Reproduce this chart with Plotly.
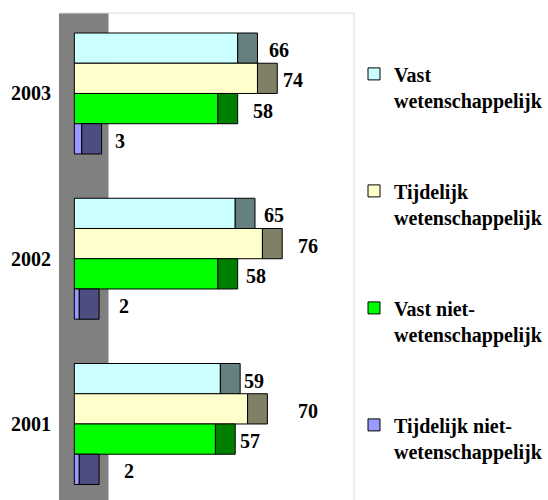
import plotly.graph_objects as go

# ---- data ----
YEARS = ["2003", "2002", "2001"]
SERIES = [
    "Vast<br>wetenschappelijk",
    "Tijdelijk<br>wetenschappelijk",
    "Vast niet-<br>wetenschappelijk",
    "Tijdelijk niet-<br>wetenschappelijk",
]
VAST_WET = [66, 65, 59]
TIJD_WET = [74, 76, 70]
VAST_NIET = [58, 58, 57]
TIJD_NIET = [3, 2, 2]
VALUES = [VAST_WET, TIJD_WET, VAST_NIET, TIJD_NIET]

# ---- style ----
FRONT = ["#CCFFFF", "#FFFFCC", "#00FF00", "#9999FF"]
SIDE = ["#668080", "#808066", "#008000", "#4D4D80"]
DEPTH = 8            # visual depth of the pseudo-3D bar end (x units)
BAR_W = 0.183        # width of one bar in category units
LABEL_SHIFT = [[10, 7, 2], [4, 14, 29], [13, 6, 3], [11, 18, 23]]  # px
FONT = "Liberation Serif, Times New Roman, serif"

fig = go.Figure()
for k, (name, vals) in enumerate(zip(SERIES, VALUES)):
    off = -2 * BAR_W + k * BAR_W
    fig.add_trace(go.Bar(
        y=YEARS, x=vals, orientation="h", name=name,
        legendgroup=f"g{k}", offset=off, width=BAR_W,
        marker=dict(color=FRONT[k], line=dict(color="black", width=1)),
    ))
    fig.add_trace(go.Bar(
        y=YEARS, x=[DEPTH] * len(vals), base=vals, orientation="h",
        name=name, legendgroup=f"g{k}", showlegend=False,
        offset=off, width=BAR_W, hoverinfo="skip",
        marker=dict(color=SIDE[k], line=dict(color="black", width=1)),
    ))
    for i, v in enumerate(vals):
        fig.add_annotation(
            x=v + DEPTH, y=i + off + BAR_W / 2, text=str(v),
            xref="x", yref="y", xanchor="left", yanchor="middle",
            xshift=LABEL_SHIFT[k][i], yshift=-2, showarrow=False,
            font=dict(family=FONT, size=20, color="black", weight="bold"),
        )

fig.add_shape(type="rect", xref="paper", yref="paper", x0=0, x1=50 / 298,
              y0=0, y1=1, fillcolor="#808080", line=dict(width=0), layer="below")
fig.add_shape(type="line", xref="paper", yref="paper", x0=0, x1=1, y0=1, y1=1,
              line=dict(color="#DDDDDD", width=1))
fig.add_shape(type="line", xref="paper", yref="paper", x0=1, x1=1, y0=0, y1=1,
              line=dict(color="#DDDDDD", width=1))

fig.update_layout(
    width=548, height=500,
    margin=dict(l=59, r=191, t=13, b=0),
    barmode="overlay",
    paper_bgcolor="white", plot_bgcolor="white",
    font=dict(family=FONT, size=20, color="black", weight="bold"),
    xaxis=dict(visible=False, range=[-6.2, 113.0]),
    yaxis=dict(type="category", range=[2.46, -0.487], showgrid=False,
               zeroline=False, ticks="", ticklabelstandoff=7,
               tickfont=dict(family=FONT, size=20, color="black", weight="bold")),
    legend=dict(x=1.0, xanchor="left", y=0.915, yanchor="top", valign="top",
                tracegroupgap=62, bgcolor="rgba(0,0,0,0)",
                font=dict(family=FONT, size=20, color="black", weight="bold")),
    showlegend=True,
)

fig.write_html("out.html")
